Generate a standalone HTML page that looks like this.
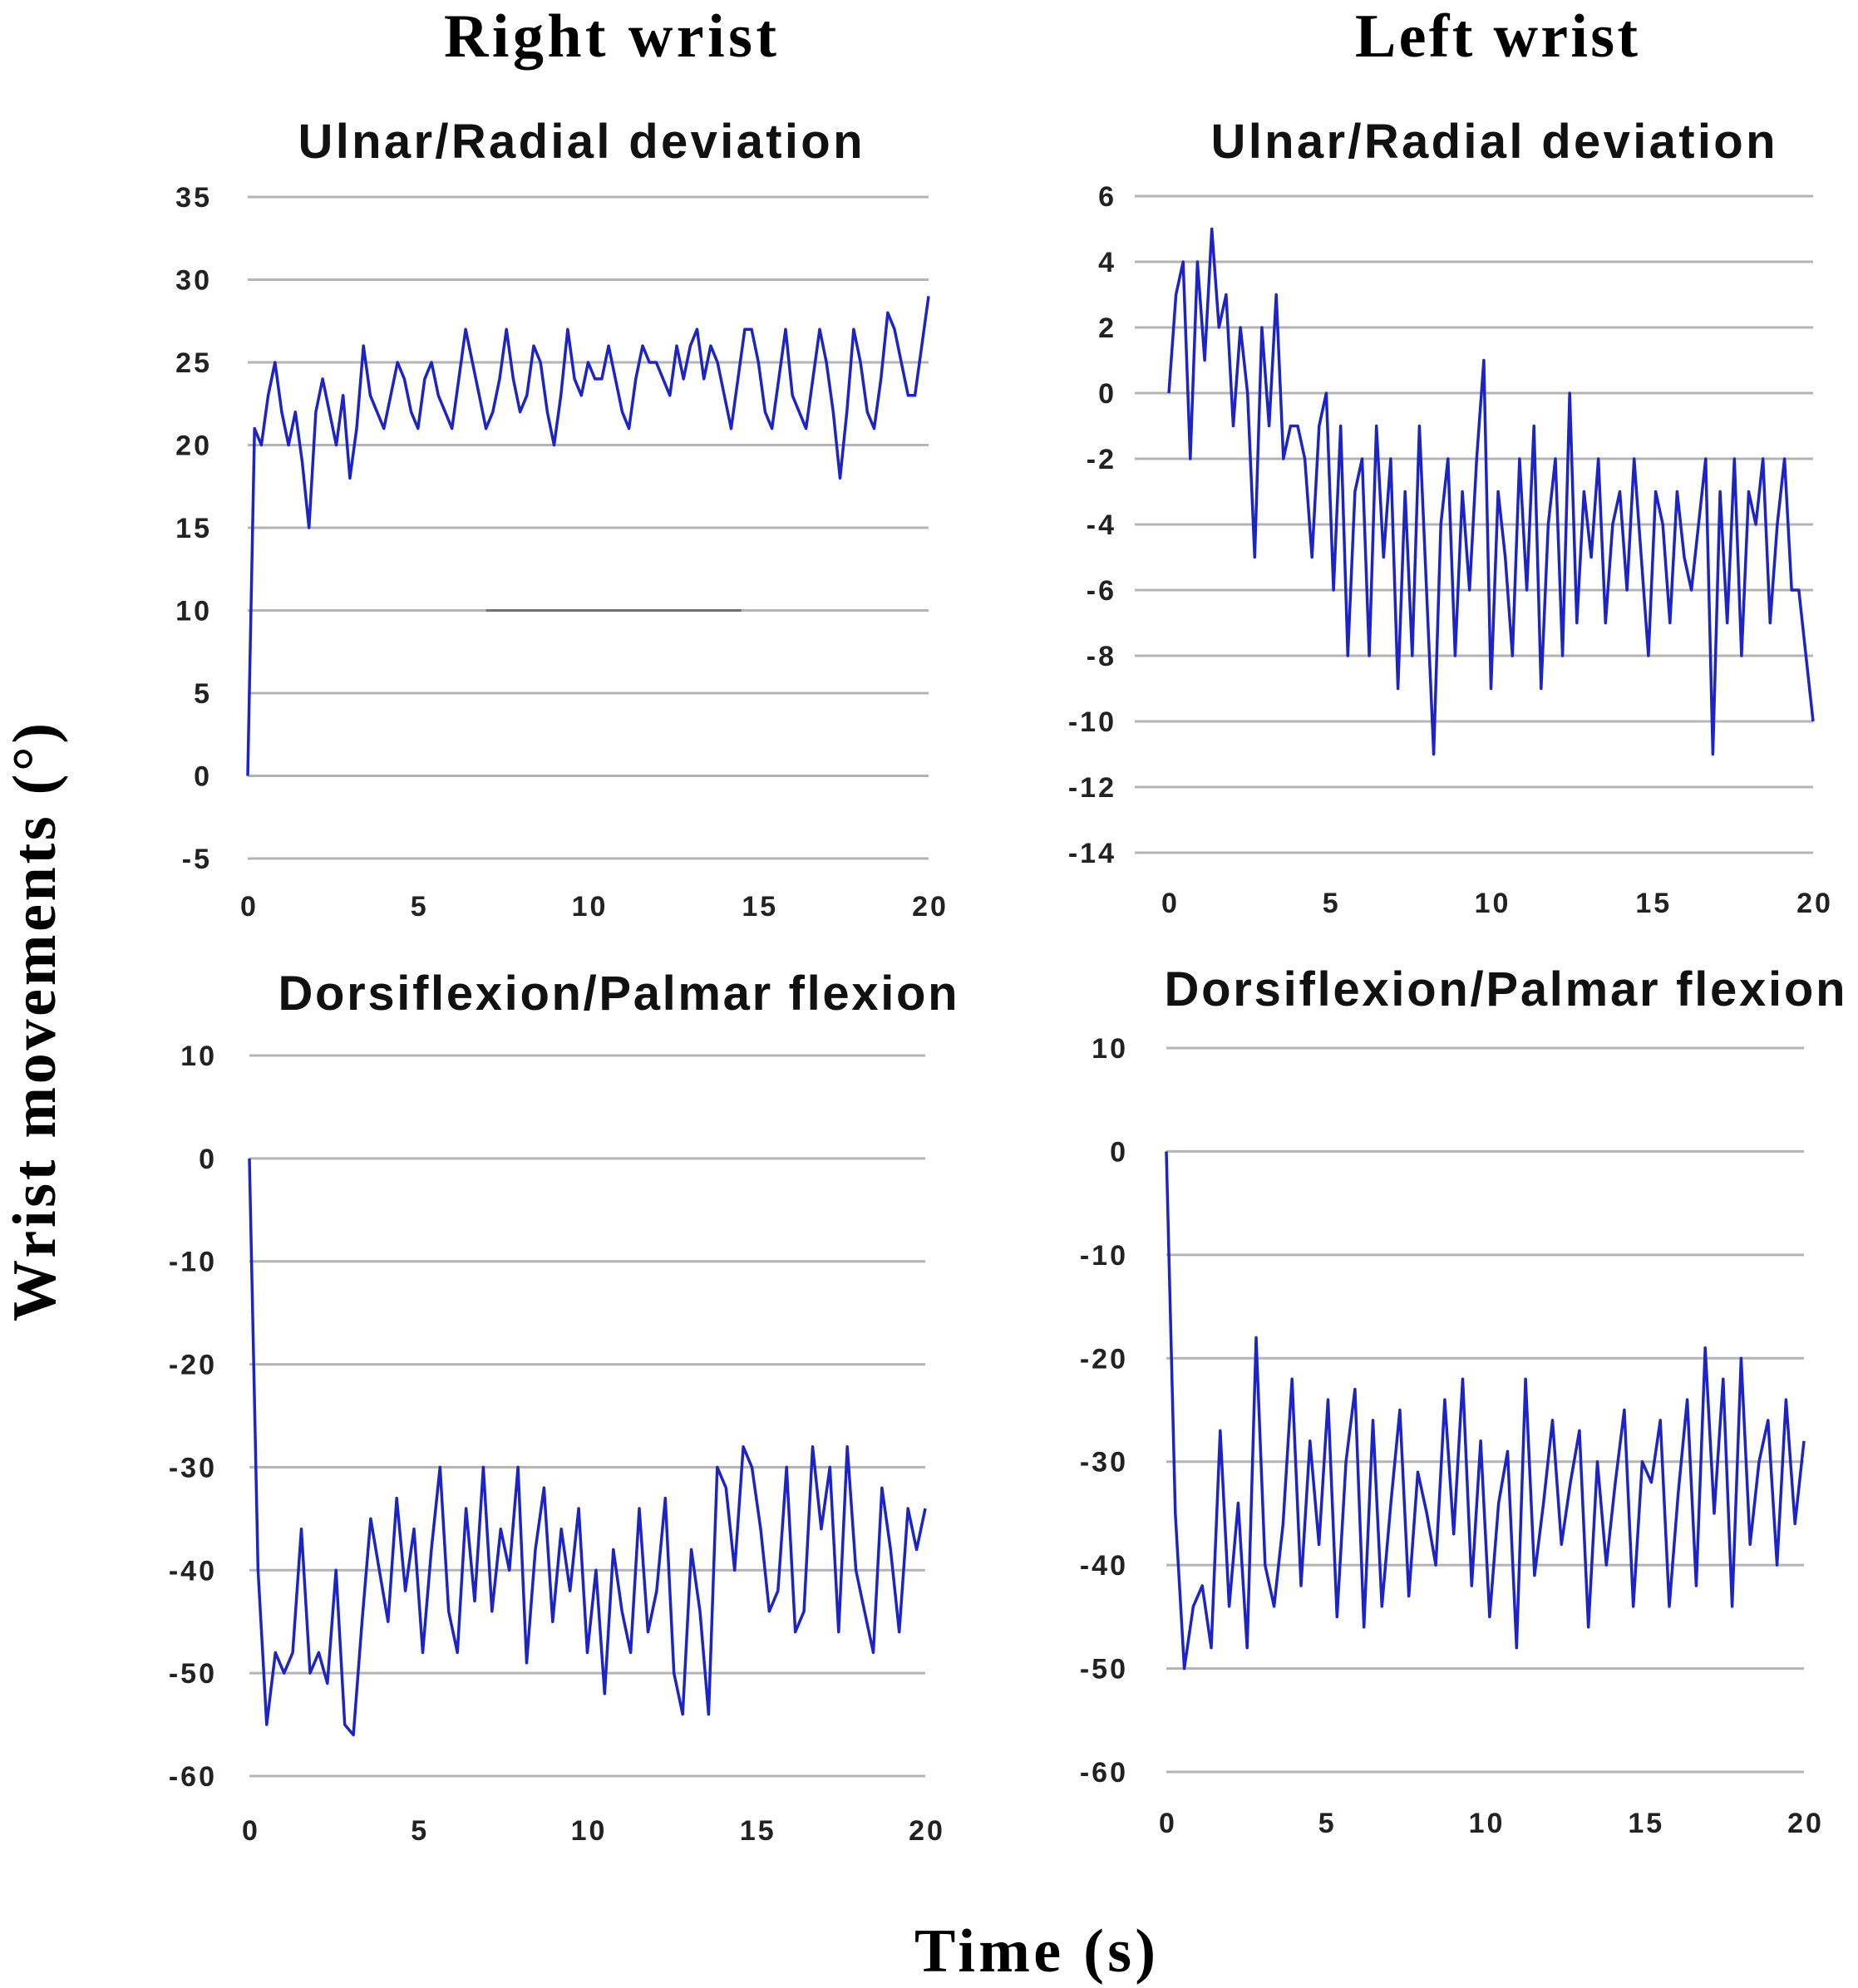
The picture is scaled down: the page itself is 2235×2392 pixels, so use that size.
<!DOCTYPE html>
<html><head><meta charset="utf-8"><style>
html,body{margin:0;padding:0;background:#fff;}
svg{display:block;}
text{font-family:"Liberation Sans",sans-serif;}
.big{font-family:"Liberation Serif",serif;font-size:74px;font-weight:bold;fill:#000;}
.sub{font-weight:bold;font-size:58px;fill:#111;}
.tick{font-weight:bold;font-size:34px;fill:#222;letter-spacing:3px;}
</style></head><body>
<svg id="fig" width="2235" height="2392" viewBox="0 0 2235 2392">
<text class="big" x="734" y="68" text-anchor="middle" textLength="400">Right wrist</text>
<text class="big" x="1800" y="68" text-anchor="middle" textLength="340">Left wrist</text>
<text class="big" transform="translate(66,1230) rotate(-90)" text-anchor="middle" textLength="720">Wrist movements (°)</text>
<text class="big" x="1245" y="2372" text-anchor="middle" textLength="290">Time (s)</text>
</svg>
<script>
const xTicks=[0,5,10,15,20];
const rUrTicks=[35,30,25,20,15,10,5,0,-5];
const lUrTicks=[6,4,2,0,-2,-4,-6,-8,-10,-12,-14];
const rDpTicks=[10,0,-10,-20,-30,-40,-50,-60];
const lDpTicks=[10,0,-10,-20,-30,-40,-50,-60];
const rUrValues=[0,21,20,23,25,22,20,22,19,15,22,24,22,20,23,18,21,26,23,22,21,23,25,24,22,21,24,25,23,22,21,24,27,25,23,21,22,24,27,24,22,23,26,25,22,20,23,27,24,23,25,24,24,26,24,22,21,24,26,25,25,24,23,26,24,26,27,24,26,25,23,21,24,27,27,25,22,21,24,27,23,22,21,24,27,25,22,18,22,27,25,22,21,24,28,27,25,23,23,26,29];
const lUrValues=[0,3,4,-2,4,1,5,2,3,-1,2,0,-5,2,-1,3,-2,-1,-1,-2,-5,-1,0,-6,-1,-8,-3,-2,-8,-1,-5,-2,-9,-3,-8,-1,-6,-11,-4,-2,-8,-3,-6,-2,1,-9,-3,-5,-8,-2,-6,-1,-9,-4,-2,-8,0,-7,-3,-5,-2,-7,-4,-3,-6,-2,-5,-8,-3,-4,-7,-3,-5,-6,-4,-2,-11,-3,-7,-2,-8,-3,-4,-2,-7,-4,-2,-6,-6,-8,-10];
const rDpValues=[0,-40,-55,-48,-50,-48,-36,-50,-48,-51,-40,-55,-56,-45,-35,-40,-45,-33,-42,-36,-48,-38,-30,-44,-48,-34,-43,-30,-44,-36,-40,-30,-49,-38,-32,-45,-36,-42,-34,-48,-40,-52,-38,-44,-48,-34,-46,-42,-33,-50,-54,-38,-44,-54,-30,-32,-40,-28,-30,-36,-44,-42,-30,-46,-44,-28,-36,-30,-46,-28,-40,-44,-48,-32,-38,-46,-34,-38,-34];
const lDpValues=[0,-35,-50,-44,-42,-48,-27,-44,-34,-48,-18,-40,-44,-36,-22,-42,-28,-38,-24,-45,-30,-23,-46,-26,-44,-34,-25,-43,-31,-35,-40,-24,-37,-22,-42,-28,-45,-34,-29,-48,-22,-41,-34,-26,-38,-32,-27,-46,-30,-40,-32,-25,-44,-30,-32,-26,-44,-33,-24,-42,-19,-35,-22,-44,-20,-38,-30,-26,-40,-24,-36,-28];
const NS='http://www.w3.org/2000/svg';
const svg=document.getElementById('fig');
function mk(tag,attrs,parent){const e=document.createElementNS(NS,tag);for(const k in attrs)e.setAttribute(k,attrs[k]);(parent||svg).appendChild(e);return e;}
function panel(id,title,titleX,titleY,titleW,gx0,gx1,x0,x1,yTop,yBot,ticks,values,xLabY,tickRight){
  const g=mk('g',{});
  
  
  const yMax=ticks[0],yMin=ticks[ticks.length-1];
  const sy=v=>yTop+(yMax-v)/(yMax-yMin)*(yBot-yTop);
  const sx=t=>x0+t/20*(x1-x0);
  const tt=mk('text',{x:titleX,y:titleY,'text-anchor':'middle',class:'sub',textLength:titleW},g);tt.textContent=title;
  
  
  ticks.forEach(v=>{
    const l=mk('line',{x1:gx0,x2:gx1,y1:sy(v),y2:sy(v),stroke:'#b4b4b4','stroke-width':3},g);
    
    
    const t=mk('text',{x:tickRight,y:sy(v)+12,'text-anchor':'end',class:'tick'},g);t.textContent=v;
    
    
  });
  xTicks.forEach(v=>{
    const t=mk('text',{x:sx(v)+2,y:xLabY,'text-anchor':'middle',class:'tick'},g);t.textContent=v;
    
    
  });
  const n=values.length;
  let d='';values.forEach((v,i)=>{d+=(i?'L':'M')+sx(i*20/(n-1)).toFixed(1)+' '+sy(v).toFixed(1);});
  const p=mk('path',{d:d,fill:'none',stroke:'#1c24c8','stroke-width':3.5,'stroke-linejoin':'round'},g);
  
  
  return {sx,sy,g};
}
const a=panel('right-ulnar-radial','Ulnar/Radial deviation',698,190,679,298,1117,298,1117,237,1033,rUrTicks,rUrValues,1102,255);
const ref=mk('line',{x1:a.sx(7),x2:a.sx(14.5),y1:a.sy(10),y2:a.sy(10),stroke:'#707070','stroke-width':3},a.g);


panel('left-ulnar-radial','Ulnar/Radial deviation',1796,190,679,1365,2181,1406,2181,236,1026,lUrTicks,lUrValues,1098,1343);
panel('right-dorsi-palmar','Dorsiflexion/Palmar flexion',743,1215,817,300,1113,300,1113,1270,2137,rDpTicks,rDpValues,2214,261);
panel('left-dorsi-palmar','Dorsiflexion/Palmar flexion',1810,1210,819,1403,2170,1403,2170,1261,2132,lDpTicks,lDpValues,2205,1357);
</script>
</body></html>
